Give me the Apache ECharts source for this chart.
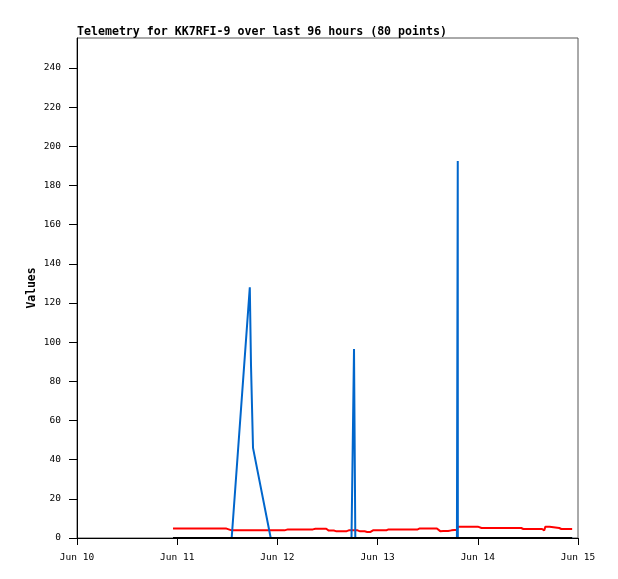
<!DOCTYPE html>
<html><head><meta charset="utf-8">
<script src="https://cdn.jsdelivr.net/npm/echarts@6/dist/echarts.min.js"></script>
<style>html,body{margin:0;padding:0;background:#fff}#c{width:618px;height:579px}</style>
</head><body><div id="c"></div>
<script>
// hours since Jun 10 00:00
const hours = [
 23.0, 24.6, 26.2, 27.8, 29.4, 31.0, 32.6, 34.2, 35.8,
 37.05, 41.39, 41.68, 42.16, 46.40,
 49.7, 50.5,
 52.0, 53.6, 55.2, 56.5, 57.1, 58.5, 59.7, 60.3, 61.5, 62.0, 63.4, 64.6, 65.1,
 65.75, 66.35, 66.66,
 67.2, 67.8, 68.9, 69.5, 70.3, 70.9, 72.6, 74.1, 74.6, 76.4, 80.0, 81.6, 82.1, 83.9, 85.4,
 85.8, 86.2, 86.6, 87.0, 87.3, 87.7, 88.3, 88.6, 88.9, 89.7, 90.4, 91.0,
 91.18, 91.2, 91.22,
 92.8, 94.4, 96.0, 96.9, 99.0, 104.0, 106.4, 106.9, 109.0, 111.4, 111.9, 112.2, 113.2, 113.6, 115.5, 116.0, 117.4, 118.6
];
const redValues = [
 4.8, 4.8, 4.8, 4.8, 4.8, 4.8, 4.8, 4.8, 4.8,
 3.9, 3.9, 3.9, 3.9, 3.9,
 3.9, 4.4,
 4.4, 4.4, 4.4, 4.4, 4.7, 4.7, 4.7, 3.8, 3.8, 3.5, 3.5, 3.5, 3.9,
 3.9, 3.9, 3.9,
 3.9, 3.4, 3.4, 3.1, 3.1, 3.9, 3.9, 3.9, 4.4, 4.4, 4.4, 4.4, 4.9, 4.9, 4.9,
 5.8, 4.9, 3.9, 3.5, 2.9, 3.6, 3.6, 2.9, 3.6, 3.9, 4.1, 4.1,
 4.1, 5.8, 5.8,
 5.8, 5.8, 5.8, 5.1, 5.1, 5.1, 5.1, 4.6, 4.6, 4.6, 3.9, 5.8, 5.8, 5.1, 5.1, 4.6, 4.6, 4.6
];
const blueValues = [
 0, 0, 0, 0, 0, 0, 0, 0, 0,
 0, 128, 88, 46, 0,
 0, 0,
 0, 0, 0, 0, 0, 0, 0, 0, 0, 0, 0, 0, 0,
 0, 96.5, 0,
 0, 0, 0, 0, 0, 0, 0, 0, 0, 0, 0, 0, 0, 0, 0,
 0, 0, 0, 0, 0, 0, 0, 0, 0, 0, 0, 0,
 0, 192.5, 0,
 0, 0, 0, 0, 0, 0, 0, 0, 0, 0, 0, 0, 0, 0, 0, 0, 0, 0
];
const blackValues = hours.map(() => 0);
const xTickHours = [0, 24, 48, 72, 96, 120];
const xTickLabels = ['Jun 10', 'Jun 11', 'Jun 12', 'Jun 13', 'Jun 14', 'Jun 15'];
const yTicks = [0, 20, 40, 60, 80, 100, 120, 140, 160, 180, 200, 220, 240];

const pair = vals => hours.map((h, i) => [h, vals[i]]);
const FONT = 'DejaVu Sans Mono';
const chart = echarts.init(document.getElementById('c'), null, {renderer: 'canvas'});
chart.setOption({
  animation: false,
  backgroundColor: '#fff',
  title: {
    text: 'Telemetry for KK7RFI-9 over last 96 hours (80 points)',
    left: 77, top: 26, padding: 0,
    textStyle: {fontFamily: FONT, fontWeight: 'bold', fontSize: 11.6, color: '#000'}
  },
  grid: {left: 77, right: 40, top: 38, bottom: 41, show: true, borderColor: '#555', borderWidth: 1},
  xAxis: {
    type: 'value', min: 0, max: 120, interval: 24,
    axisLine: {lineStyle: {color: '#000', width: 1}},
    axisTick: {length: 7, lineStyle: {color: '#000'}, customValues: xTickHours},
    axisLabel: {
      customValues: xTickHours,
      formatter: v => xTickLabels[xTickHours.indexOf(v)],
      fontFamily: FONT, fontSize: 9.5, color: '#000', margin: 15
    },
    splitLine: {show: false}
  },
  yAxis: {
    type: 'value', min: 0, max: 255.3, interval: 20,
    name: 'Values', nameLocation: 'middle', nameGap: 39, nameMoveOverlap: false,
    nameTextStyle: {fontFamily: FONT, fontWeight: 'bold', fontSize: 11.4, color: '#000'},
    axisLine: {show: true, lineStyle: {color: '#000', width: 1}},
    axisTick: {show: true, length: 8, lineStyle: {color: '#000'}, customValues: yTicks},
    axisLabel: {customValues: yTicks, fontFamily: FONT, fontSize: 9.5, color: '#000', margin: 16},
    splitLine: {show: false}
  },
  series: [
    {type: 'line', data: pair(redValues), showSymbol: false, lineStyle: {color: '#ff0000', width: 2}, itemStyle: {color: '#ff0000'}},
    {type: 'line', data: pair(blueValues), showSymbol: false, lineStyle: {color: '#0066cc', width: 2}, itemStyle: {color: '#0066cc'}},
    {type: 'line', data: pair(blackValues), showSymbol: false, lineStyle: {color: '#000000', width: 2}, itemStyle: {color: '#000'}}
  ]
});
</script>
</body></html>
